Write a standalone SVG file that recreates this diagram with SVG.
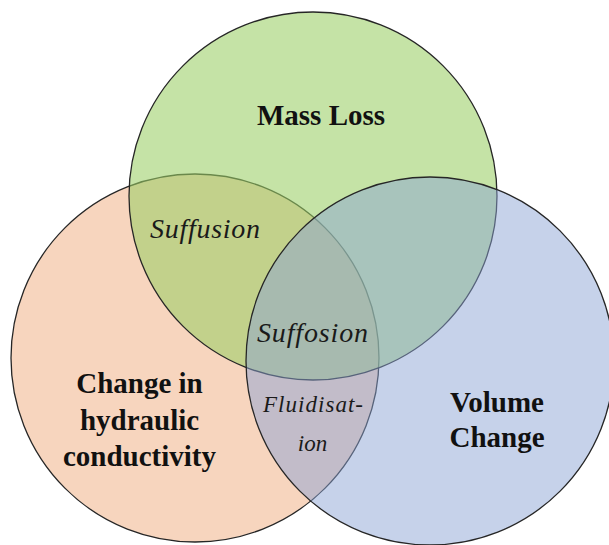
<svg xmlns="http://www.w3.org/2000/svg" width="609" height="545" viewBox="0 0 609 545">
<style>
.c{stroke:#262626;stroke-width:1.3}
.b{font-family:"Liberation Serif","Times New Roman",serif;font-weight:bold;font-size:29px;fill:#111;text-anchor:middle}
.i{font-family:"Liberation Serif","Times New Roman",serif;font-style:italic;fill:#1a1a1a;text-anchor:middle}
</style>
<rect width="609" height="545" fill="#ffffff"/>
<g id="hydraulic">
<circle class="c" cx="195" cy="358" r="184" fill="#F7D5BE"/>
<text class="b" x="139.5" y="393">Change in</text>
<text class="b" x="139.5" y="430">hydraulic</text>
<text class="b" x="139.5" y="466">conductivity</text>
</g>
<g id="massloss">
<circle class="c" cx="313" cy="196" r="184" fill="#9BCF66" fill-opacity="0.58"/>
<text class="b" x="321" y="125">Mass Loss</text>
</g>
<g id="volume">
<circle class="c" cx="430" cy="361" r="184" fill="#8BA3D4" fill-opacity="0.49"/>
<text class="b" x="497" y="412">Volume</text>
<text class="b" x="497" y="447">Change</text>
</g>
<g id="suffusion">
<text class="i" x="205" y="238" font-size="28" textLength="110" lengthAdjust="spacing">Suffusion</text>
</g>
<g id="suffosion">
<text class="i" x="312.5" y="342" font-size="28" textLength="111" lengthAdjust="spacing">Suffosion</text>
</g>
<g id="fluidisation">
<text class="i" x="313" y="412" font-size="23" textLength="100" lengthAdjust="spacing">Fluidisat-</text>
<text class="i" x="312.5" y="451" font-size="23">ion</text>
</g>
<g id="connectors"/>
</svg>
